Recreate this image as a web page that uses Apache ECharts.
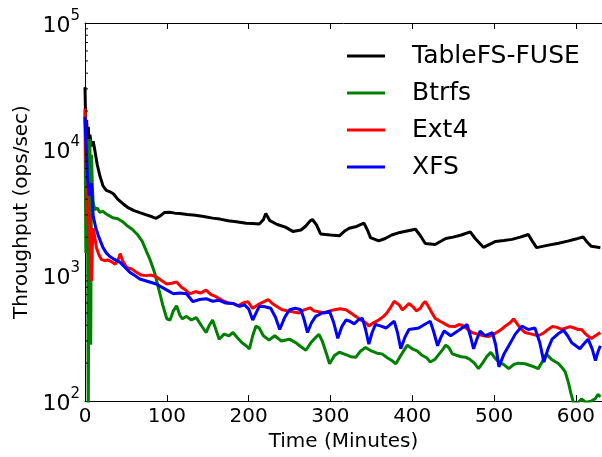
<!DOCTYPE html>
<html>
<head>
<meta charset="utf-8">
<script src="https://cdn.jsdelivr.net/npm/echarts@6/dist/echarts.min.js"></script>
<style>html,body{margin:0;padding:0;background:#fff}#c{width:602px;height:457px}</style>
</head>
<body>
<div id="c"></div>
<script>
// ---- data (time in minutes, throughput in ops/sec) ----
const seriesNames = ['TableFS-FUSE', 'Btrfs', 'Ext4', 'XFS'];
const xTicks = [0, 100, 200, 300, 400, 500, 600];
const yTicks = [100, 1000, 10000, 100000];

const tablefsT = [0,1,2,3,4,5,6,8,10,12,15,18,22,26,30,35,40,46,52,60,67,75,82,87,92,97,103,110,116,125,135,145,156,165,175,185,197,205,213,218,221,226,235,245,254,264,270,275,278,283,288,300,311,318,323,332,341,345,349,359,367,375,385,395,404,410,416,428,441,450,460,471,477,487,502,512,522,532,542,547,552,565,579,590,600,609,614,619,625,630];
const tablefsV = [31000,14000,17000,12000,15000,11000,13000,10500,11500,9800,7500,6200,5100,4700,4600,4400,4000,3700,3450,3250,3130,3000,2900,2820,2950,3130,3150,3100,3080,3020,2980,2920,2830,2780,2700,2650,2580,2560,2540,2750,3080,2700,2520,2400,2220,2280,2450,2680,2760,2500,2120,2080,2050,2250,2350,2430,2580,2300,1980,1870,1950,2080,2180,2250,2310,2050,1780,1750,1950,2000,2080,2200,1950,1660,1850,1880,1920,2000,2100,1850,1650,1720,1790,1860,1930,2010,1820,1690,1670,1650];

const btrfsT = [0,1,2,3,4,5,6,7,8,9,10,12,15,18,22,26,30,34,40,46,52,58,64,70,75,80,85,90,95,100,104,108,112,116,119,124,130,136,142,148,152,156,160,164,170,176,181,186,192,197,201,205,209,213,218,225,232,240,250,258,264,270,276,282,286,290,295,299,305,311,318,325,331,337,343,350,357,363,370,375,380,386,394,400,406,412,418,422,428,433,437,441,445,449,455,460,465,470,476,481,486,491,496,501,506,512,518,524,530,538,546,554,559,564,570,575,579,583,587,591,594,597,601,607,612,619,624,627,630];
const btrfsV = [20000,1500,12000,8000,60,9000,12000,280,9000,5000,3800,3300,3400,3150,3200,3050,2950,2850,2800,2650,2450,2300,2100,1850,1550,1300,1050,780,580,450,440,520,570,480,450,470,440,460,400,350,400,440,370,310,340,330,350,320,290,275,260,330,395,380,330,305,330,300,310,290,270,253,290,320,338,300,240,198,230,244,235,225,223,250,266,250,240,237,220,210,198,230,278,260,250,231,220,204,215,237,255,278,265,237,230,225,223,215,200,181,200,225,244,220,204,195,181,195,200,198,190,181,205,237,215,205,198,185,171,140,115,98,95,104,98,100,105,113,108];

const ext4T = [0,1,2,3,4,5,6,7,8,9,10,12,14,17,20,24,28,32,37,41,43,46,51,57,63,69,75,81,87,94,100,106,112,118,123,128,135,141,148,154,159,164,170,175,181,187,193,199,205,211,219,224,229,235,241,248,255,262,268,275,280,287,293,299,305,312,319,325,331,337,343,347,353,359,365,369,374,378,380,384,388,392,396,401,405,410,413,416,420,425,428,434,440,445,452,457,461,467,473,480,487,493,500,506,510,514,520,524,526,532,538,546,554,560,566,571,577,583,588,593,598,603,607,612,619,624,630];
const ext4V = [21000,9000,5000,3300,2500,3000,1800,1200,900,1700,2350,2000,1650,1450,1330,1300,1320,1280,1220,1350,1480,1300,1150,1120,1050,1000,990,1000,970,900,850,860,880,800,760,710,740,720,760,700,680,650,620,600,595,570,600,615,545,580,615,640,595,560,530,520,510,500,530,550,520,510,500,520,530,540,530,500,470,440,420,395,420,440,470,500,560,620,630,580,530,560,595,560,520,545,590,615,560,490,455,430,410,393,390,405,400,375,350,340,330,325,340,360,375,395,420,450,440,380,350,340,330,345,370,390,385,370,380,390,380,370,370,340,314,330,350];

const xfsT = [0,1,2,3,4,5,6,8,10,13,16,19,22,26,30,36,43,49,55,61,67,77,87,97,108,116,124,132,140,148,156,164,172,181,189,195,200,205,213,220,227,233,238,244,250,257,264,268,272,277,282,290,299,304,309,314,319,324,329,334,339,343,347,351,355,361,368,373,378,382,386,391,396,402,408,415,422,426,431,435,439,443,447,457,467,471,475,479,483,489,498,502,506,512,518,526,534,542,550,556,561,566,571,578,585,590,595,600,605,610,615,620,624,627,630];
const xfsV = [18000,12000,8700,6000,5000,4270,4800,5350,2950,2400,2080,1850,1650,1500,1410,1330,1260,1150,1050,990,930,890,850,780,710,720,710,615,640,650,620,630,600,595,565,580,540,440,565,560,545,460,370,460,530,545,530,440,350,420,470,500,515,420,315,390,440,430,410,440,455,370,283,350,405,395,380,405,430,350,260,320,370,375,380,405,430,360,275,320,360,345,330,365,405,330,260,310,360,330,350,280,187,235,275,340,393,370,380,290,204,260,310,340,365,330,290,275,260,285,310,260,210,245,275];

const colors = ['#000000', '#008000', '#ff0000', '#0000ff'];

// ---- build ----
function pairs(t, v) { return t.map((x, i) => [x, v[i]]); }
const seriesData = [pairs(tablefsT, tablefsV), pairs(btrfsT, btrfsV), pairs(ext4T, ext4V), pairs(xfsT, xfsV)];

// log minor tick values (2..9 x 10^n) for the y axis
const minorTicks = [];
for (let d = 0; d < yTicks.length - 1; d++) {
  for (let k = 2; k <= 9; k++) minorTicks.push([0, yTicks[d] * k]);
}

const FONT = 'DejaVu Sans';
const chart = echarts.init(document.getElementById('c'), null, {renderer: 'canvas'});

const lineSeries = seriesNames.map((name, i) => ({
  name: name,
  type: 'line',
  data: seriesData[i],
  showSymbol: false,
  symbol: 'none',
  clip: true,
  lineStyle: {color: colors[i], width: 3},
  itemStyle: {color: colors[i]},
  z: 2 + i
}));

const option = {
  animation: false,
  backgroundColor: '#ffffff',
  textStyle: {fontFamily: FONT},
  grid: {left: 85, right: -2, top: 23, bottom: 47, containLabel: false},
  legend: {
    data: seriesNames,
    orient: 'vertical',
    left: 342,
    top: 36,
    icon: 'rect',
    itemWidth: 38,
    itemHeight: 3,
    itemGap: 7,
    textStyle: {fontSize: 25, color: '#000', fontFamily: FONT, lineHeight: 30, padding: [0, 0, 0, 22]},
    selectedMode: false
  },
  xAxis: [{
    type: 'value',
    min: 0, max: 632, interval: 100,
    name: 'Time (Minutes)',
    nameLocation: 'middle',
    nameGap: 24,
    nameTextStyle: {fontSize: 20, color: '#000', fontFamily: FONT},
    axisLine: {show: true, onZero: false, lineStyle: {color: '#000', width: 1}},
    axisTick: {show: true, inside: true, length: 6, lineStyle: {color: '#000'}},
    axisLabel: {fontSize: 20, color: '#000', margin: 6, showMaxLabel: false, fontFamily: FONT,
      formatter: v => (xTicks.indexOf(v) >= 0 ? String(v) : '')},
    splitLine: {show: false}
  }, {
    type: 'value',
    position: 'top',
    min: 0, max: 632, interval: 100,
    axisLine: {show: true, onZero: false, lineStyle: {color: '#000', width: 1}},
    axisTick: {show: true, inside: true, length: 6, lineStyle: {color: '#000'}},
    axisLabel: {show: false},
    splitLine: {show: false}
  }],
  yAxis: [{
    type: 'log',
    logBase: 10,
    min: 100, max: 100000,
    name: 'Throughput (ops/sec)',
    nameLocation: 'middle',
    nameGap: 52,
    nameRotate: 90,
    nameTextStyle: {fontSize: 20, color: '#000', fontFamily: FONT},
    axisLine: {show: true, onZero: false, lineStyle: {color: '#000', width: 1}},
    axisTick: {show: true, inside: true, length: 6, lineStyle: {color: '#000'}},
    axisLabel: {
      margin: 5,
      color: '#000',
      formatter: function (v) {
        const e = Math.round(Math.log10(v));
        return '{b|10}{s|' + e + '}';
      },
      rich: {
        b: {fontSize: 22, fontFamily: FONT, color: '#000', lineHeight: 28, verticalAlign: 'bottom'},
        s: {fontSize: 15, fontFamily: FONT, color: '#000', lineHeight: 28, verticalAlign: 'top'}
      }
    },
    splitLine: {show: false}
  }],
  series: lineSeries.concat([{
    name: 'minorTicks',
    type: 'custom',
    xAxisIndex: 0,
    yAxisIndex: 0,
    data: minorTicks,
    clip: false,
    silent: true,
    z: 10,
    renderItem: function (params, api) {
      const p = api.coord([0, api.value(1)]);
      return {type: 'line', shape: {x1: p[0], y1: p[1], x2: p[0] + 3, y2: p[1]}, style: {stroke: '#000', lineWidth: 1}};
    }
  }])
};
chart.setOption(option);
</script>
</body>
</html>
